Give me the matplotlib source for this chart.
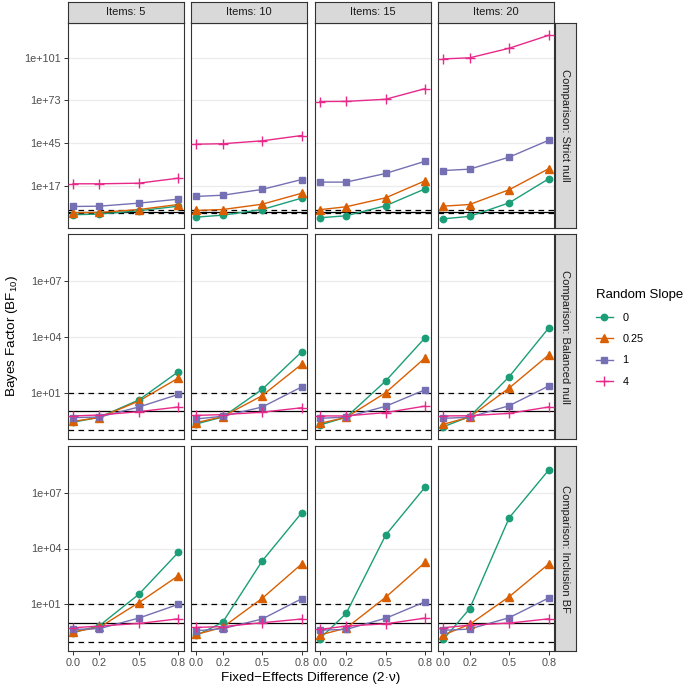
import matplotlib
matplotlib.use('Agg')
import matplotlib.pyplot as plt
import numpy as np
from matplotlib.lines import Line2D
from matplotlib.ticker import FixedLocator, NullLocator

plt.rcParams['font.family'] = ['Liberation Sans', 'DejaVu Sans']
plt.rcParams['mathtext.fontset'] = 'custom'
plt.rcParams['mathtext.rm'] = 'Liberation Sans'
plt.rcParams['mathtext.it'] = 'Liberation Sans:italic'

# data (log10 of the Bayes factor)
fixed_diff = [0.0, 0.2, 0.5, 0.8]
items = [5, 10, 15, 20]
slopes = ['0', '0.25', '1', '4']
comparisons = ['Strict null', 'Balanced null', 'Inclusion BF']

# [items][slope][fixed_diff]
strict_null = [
    [[-2.0, -1.6, 0.6, 3.6], [-0.7, -0.5, 1.4, 4.7], [3.4, 3.6, 5.6, 8.2], [18.3, 18.3, 18.7, 22.0]],
    [[-3.6, -2.3, 1.4, 8.9], [0.8, 1.4, 4.9, 12.1], [10.0, 10.8, 14.6, 21.1], [44.3, 44.6, 46.5, 50.0]],
    [[-4.0, -2.7, 3.9, 15.0], [1.3, 3.2, 9.1, 20.3], [19.4, 19.4, 25.1, 33.1], [72.3, 72.4, 73.8, 80.8]],
    [[-4.7, -3.1, 5.8, 21.6], [3.6, 4.7, 14.4, 28.2], [27.0, 27.9, 35.8, 46.9], [100.3, 101.0, 107.3, 115.8]],
]
balanced_null = [
    [[-0.59, -0.32, 0.61, 2.13], [-0.54, -0.34, 0.55, 1.79], [-0.34, -0.31, 0.23, 0.91], [-0.25, -0.20, -0.02, 0.23]],
    [[-0.68, -0.31, 1.18, 3.20], [-0.61, -0.29, 0.84, 2.53], [-0.41, -0.27, 0.23, 1.31], [-0.22, -0.18, -0.05, 0.19]],
    [[-0.74, -0.32, 1.63, 3.96], [-0.65, -0.33, 1.00, 2.88], [-0.38, -0.31, 0.27, 1.16], [-0.25, -0.25, -0.07, 0.28]],
    [[-0.83, -0.29, 1.86, 4.48], [-0.70, -0.31, 1.25, 3.03], [-0.38, -0.32, 0.30, 1.36], [-0.25, -0.24, -0.11, 0.23]],
]
inclusion_bf = [
    [[-0.53, -0.15, 1.54, 3.80], [-0.48, -0.24, 1.09, 2.54], [-0.35, -0.31, 0.26, 1.00], [-0.26, -0.17, -0.03, 0.22]],
    [[-0.67, 0.03, 3.33, 5.92], [-0.62, -0.24, 1.32, 3.17], [-0.42, -0.31, 0.21, 1.30], [-0.24, -0.20, 0.01, 0.21]],
    [[-0.85, 0.51, 4.72, 7.31], [-0.65, -0.28, 1.38, 3.26], [-0.39, -0.35, 0.25, 1.14], [-0.35, -0.17, -0.05, 0.26]],
    [[-0.89, 0.76, 5.65, 8.22], [-0.65, -0.08, 1.41, 3.17], [-0.40, -0.33, 0.28, 1.34], [-0.26, -0.12, -0.01, 0.22]],
]
row_data = [strict_null, balanced_null, inclusion_bf]
row_tick_exp = [[17, 45, 73, 101], [1, 4, 7], [1, 4, 7]]

# styles
colors = ['#1B9E77', '#D95F02', '#7570B3', '#E7298A']
markers = ['o', '^', 's', '+']
msizes = [4.6, 5.6, 4.6, 7]
row_ylim_log = [(-10.4, 124.2), (-1.49, 9.53), (-1.51, 9.51)]

W, H = 685, 686
fig = plt.figure(figsize=(W / 100, H / 100), dpi=100)


def box(x, y, w, h):
    return [x / W, 1 - (y + h) / H, w / W, h / H]


col_left = [67.7, 191.0, 314.5, 438.0]
row_top = [22.5, 234.0, 446.0]
pw, ph = 116.0, 205.0
border = '#333333'

for r in range(3):
    for c in range(4):
        ax = fig.add_axes(box(col_left[c], row_top[r], pw, ph))
        ax.set_yscale('log')
        ax.set_xlim(-0.04, 0.84)
        lo, hi = row_ylim_log[r]
        ax.set_ylim(10.0 ** lo, 10.0 ** hi)
        ticks = [10.0 ** e for e in row_tick_exp[r]]
        for t in ticks:
            ax.axhline(t, color='#EBEBEB', lw=0.9, zorder=0)
        ax.axhline(1, color='black', lw=0.9, zorder=1)
        for v in [0.1, 10]:
            ax.axhline(v, color='black', lw=0.9, ls=(0, (4.5, 3.5)), zorder=1)
        for s in range(4):
            y = 10.0 ** np.array(row_data[r][c][s])
            ax.plot(fixed_diff, y, color=colors[s], lw=1.0, zorder=2)
        for s in range(4):
            y = 10.0 ** np.array(row_data[r][c][s])
            ax.plot(fixed_diff, y, ls='none', marker=markers[s], ms=msizes[s],
                    color=colors[s], mew=1.0, zorder=3)
        ax.yaxis.set_major_locator(FixedLocator(ticks))
        ax.yaxis.set_minor_locator(NullLocator())
        ax.set_yticklabels(['1e+%02d' % e for e in row_tick_exp[r]])
        ax.set_xticks(fixed_diff)
        ax.set_xticklabels(['0.0', '0.2', '0.5', '0.8'])
        for sp in ax.spines.values():
            sp.set_color(border)
            sp.set_linewidth(0.8)
        ax.tick_params(axis='both', colors=border, labelcolor='#4D4D4D', labelsize=7.8,
                       length=3.2, width=0.7, pad=1.5)
        if c > 0:
            ax.tick_params(axis='y', length=0, labelleft=False)
        if r < 2:
            ax.tick_params(axis='x', length=0, labelbottom=False)

# facet strips
for c in range(4):
    sax = fig.add_axes(box(col_left[c], 2, pw, 20.5))
    sax.set_facecolor('#D9D9D9')
    sax.set_xticks([])
    sax.set_yticks([])
    for sp in sax.spines.values():
        sp.set_color(border)
        sp.set_linewidth(0.8)
    sax.text(0.5, 0.5, 'Items: %d' % items[c], ha='center', va='center',
             fontsize=8, color='#1A1A1A', transform=sax.transAxes)

for r in range(3):
    sax = fig.add_axes(box(554.5, row_top[r], 21, ph))
    sax.set_facecolor('#D9D9D9')
    sax.set_xticks([])
    sax.set_yticks([])
    for sp in sax.spines.values():
        sp.set_color(border)
        sp.set_linewidth(0.8)
    sax.text(0.5, 0.5, 'Comparison: ' + comparisons[r], ha='center', va='center',
             rotation=-90, fontsize=8, color='#1A1A1A', transform=sax.transAxes)

# axis titles
fig.text(310.9 / W, 1 - 677.5 / H, 'Fixed\u2212Effects Difference (2\u00b7\u03bd)',
         ha='center', va='center', fontsize=9.7)
fig.text(12.5 / W, 1 - 336.5 / H, 'Bayes Factor (BF$_{10}$)',
         ha='center', va='center', rotation=90, fontsize=9.7)

# legend
handles = [Line2D([], [], color=colors[s], marker=markers[s], ms=msizes[s], mew=1.0, lw=1.0)
           for s in range(4)]
leg = fig.legend(handles, slopes, title='Random Slope', loc='upper left',
                 bbox_to_anchor=(592 / W, 1 - 285 / H), frameon=False,
                 fontsize=7.8, title_fontsize=9.5, handlelength=1.5,
                 handletextpad=0.9, labelspacing=1.05, borderaxespad=0)
leg._legend_box.align = 'left'

fig.savefig('out.png', dpi=100)
